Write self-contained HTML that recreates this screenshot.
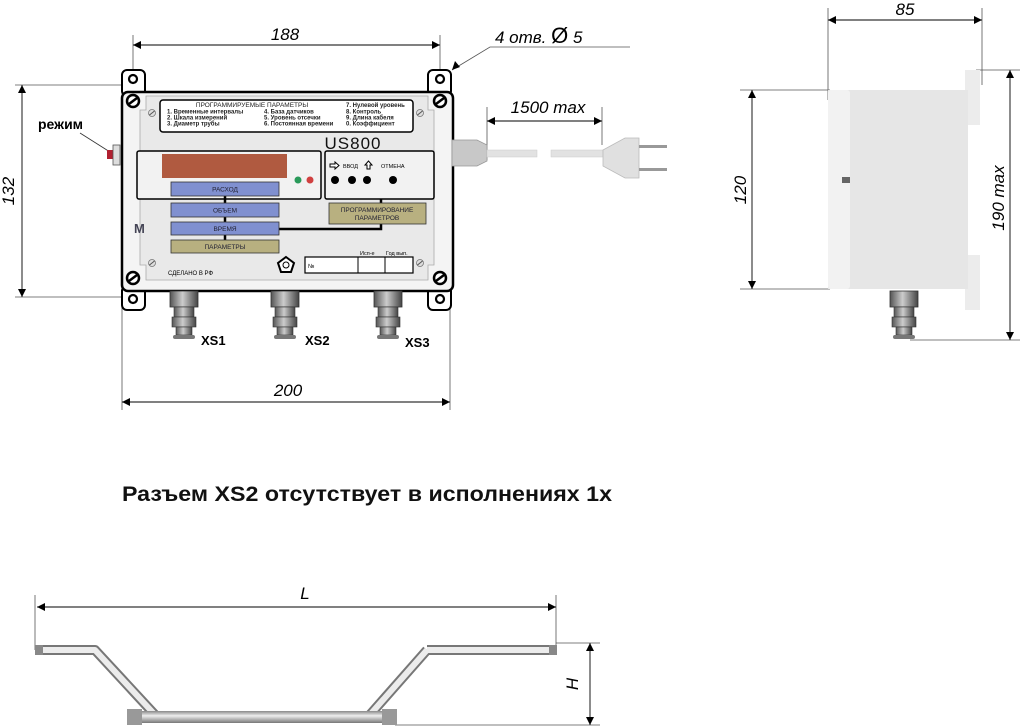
<!DOCTYPE html>
<html><head><meta charset="utf-8"><style>
html,body{margin:0;padding:0;background:#fff;}
svg{display:block;font-family:"Liberation Sans","DejaVu Sans",sans-serif;}
</style></head><body>
<svg width="1021" height="728" viewBox="0 0 1021 728" xmlns="http://www.w3.org/2000/svg">
<defs>
<marker id="a" viewBox="0 0 10 10" refX="10" refY="5" markerWidth="10" markerHeight="8" orient="auto-start-reverse" markerUnits="userSpaceOnUse"><path d="M0,0 L10,5 L0,10 Z" fill="#000"/></marker>
<linearGradient id="pipe" x1="0" y1="0" x2="0" y2="1"><stop offset="0" stop-color="#888"/><stop offset="0.4" stop-color="#eee"/><stop offset="1" stop-color="#777"/></linearGradient>
<linearGradient id="conn" x1="0" y1="0" x2="1" y2="0"><stop offset="0" stop-color="#555"/><stop offset="0.45" stop-color="#ccc"/><stop offset="1" stop-color="#444"/></linearGradient>
<g id="connector">
<rect x="-14" y="0" width="28" height="16" fill="url(#conn)" stroke="#333" stroke-width="0.8"/>
<rect x="-10" y="16" width="20" height="10" fill="url(#conn)" stroke="#333" stroke-width="0.6"/>
<rect x="-12" y="26" width="24" height="10" fill="url(#conn)" stroke="#333" stroke-width="0.6"/>
<rect x="-8" y="36" width="16" height="8" fill="url(#conn)" stroke="#333" stroke-width="0.6"/>
<rect x="-11" y="44" width="22" height="4" rx="2" fill="#777"/>
</g>
<g id="screw"><circle r="6" fill="#fff" stroke="#000" stroke-width="2.5"/><line x1="-4" y1="3" x2="4" y2="-3" stroke="#000" stroke-width="2.5"/></g>
<g id="ss"><circle r="3.5" fill="#ddd" stroke="#777" stroke-width="0.8"/><line x1="-2.5" y1="2" x2="2.5" y2="-2" stroke="#555" stroke-width="1"/></g>
</defs>

<g stroke="#555" stroke-width="0.8" fill="none">
<line x1="133" y1="35" x2="133" y2="75"/><line x1="440" y1="35" x2="440" y2="75"/>
<line x1="15" y1="85" x2="125" y2="85"/><line x1="15" y1="297" x2="125" y2="297"/>
<line x1="122" y1="300" x2="122" y2="410"/><line x1="450" y1="300" x2="450" y2="410"/>
<line x1="487" y1="107" x2="487" y2="160"/><line x1="602" y1="107" x2="602" y2="145"/>
<line x1="828" y1="8" x2="828" y2="100"/><line x1="982" y1="8" x2="982" y2="85"/>
<line x1="740" y1="90" x2="830" y2="90"/><line x1="740" y1="289" x2="830" y2="289"/>
<line x1="976" y1="70" x2="1020" y2="70"/><line x1="910" y1="340" x2="1020" y2="340"/>
<line x1="35" y1="595" x2="35" y2="650"/><line x1="556" y1="595" x2="556" y2="650"/>
<line x1="556" y1="643" x2="600" y2="643"/><line x1="395" y1="725" x2="600" y2="725"/>
<polyline points="630,47 490,47 452,70"/>
</g>
<g stroke="#000" stroke-width="0.9">
<line x1="133" y1="45" x2="440" y2="45" marker-start="url(#a)" marker-end="url(#a)"/>
<line x1="22" y1="85" x2="22" y2="297" marker-start="url(#a)" marker-end="url(#a)"/>
<line x1="122" y1="402" x2="450" y2="402" marker-start="url(#a)" marker-end="url(#a)"/>
<line x1="487" y1="121" x2="602" y2="121" marker-start="url(#a)" marker-end="url(#a)"/>
<line x1="828" y1="20" x2="982" y2="20" marker-start="url(#a)" marker-end="url(#a)"/>
<line x1="752" y1="90" x2="752" y2="289" marker-start="url(#a)" marker-end="url(#a)"/>
<line x1="1010" y1="70" x2="1010" y2="340" marker-start="url(#a)" marker-end="url(#a)"/>
<line x1="37" y1="607" x2="556" y2="607" marker-start="url(#a)" marker-end="url(#a)"/>
<line x1="590" y1="643" x2="590" y2="725" marker-start="url(#a)" marker-end="url(#a)"/>
</g>
<path d="M452,70 l3,-9 l5,6 z" fill="#000"/>
<g font-style="italic" font-size="17" fill="#000">
<text x="285" y="40" text-anchor="middle">188</text>
<text x="288" y="396" text-anchor="middle">200</text>
<text x="548" y="113" text-anchor="middle">1500 max</text>
<text x="905" y="15" text-anchor="middle">85</text>
<text x="495" y="43">4 отв. <tspan font-style="normal" font-size="22">Ø</tspan> 5</text>
<text transform="translate(14,191) rotate(-90)" text-anchor="middle">132</text>
<text transform="translate(746,190) rotate(-90)" text-anchor="middle">120</text>
<text transform="translate(1004,198) rotate(-90)" text-anchor="middle">190 max</text>
<text x="305" y="599" text-anchor="middle">L</text>
<text transform="translate(578,684) rotate(-90)" text-anchor="middle">H</text>
</g>

<text x="38" y="129" font-size="14" font-weight="bold">режим</text>
<line x1="80" y1="133" x2="110" y2="152" stroke="#333" stroke-width="0.8"/>
<rect x="107" y="150" width="6" height="9" fill="#b02030"/>
<rect x="113" y="145" width="7" height="20" fill="#ddd" stroke="#555" stroke-width="0.8"/>

<rect x="122" y="70" width="23" height="26" rx="5" fill="#fff" stroke="#000" stroke-width="2"/>
<rect x="428" y="70" width="23" height="26" rx="5" fill="#fff" stroke="#000" stroke-width="2"/>
<rect x="122" y="286" width="23" height="24" rx="5" fill="#fff" stroke="#000" stroke-width="2"/>
<rect x="428" y="286" width="23" height="24" rx="5" fill="#fff" stroke="#000" stroke-width="2"/>
<g fill="#fff" stroke="#000" stroke-width="2.2"><circle cx="133" cy="79" r="4"/><circle cx="440" cy="79" r="4"/><circle cx="133" cy="299" r="4"/><circle cx="440" cy="299" r="4"/></g>
<rect x="122" y="92" width="331" height="199" rx="6" fill="#f4f4f4" stroke="#000" stroke-width="2.5"/>
<path d="M146,96 H428 V110 H434 V265 H428 V280 H146 V265 H140 V110 H146 Z" fill="#e9e9e9" stroke="#aaa" stroke-width="0.8"/>
<use href="#screw" x="133" y="101"/><use href="#screw" x="440" y="101"/><use href="#screw" x="133" y="278"/><use href="#screw" x="440" y="278"/>
<use href="#ss" x="152" y="113"/><use href="#ss" x="420" y="113"/><use href="#ss" x="152" y="263"/><use href="#ss" x="420" y="263"/>

<rect x="160" y="100" width="253" height="32" rx="3" fill="#fff" stroke="#000" stroke-width="1.5"/>
<g font-size="6" font-weight="bold" fill="#222">
<text x="252" y="107" font-weight="normal" font-size="6.5" text-anchor="middle">ПРОГРАММИРУЕМЫЕ ПАРАМЕТРЫ</text>
<text x="167" y="113.5">1. Временные интервалы</text><text x="167" y="119.5">2. Шкала измерений</text><text x="167" y="125.5">3. Диаметр трубы</text>
<text x="264" y="113.5">4. База датчиков</text><text x="264" y="119.5">5. Уровень отсечки</text><text x="264" y="125.5">6. Постоянная времени</text>
<text x="346" y="107">7. Нулевой уровень</text><text x="346" y="113.5">8. Контроль</text><text x="346" y="119.5">9. Длина кабеля</text><text x="346" y="125.5">0. Коэффициент</text>
</g>
<text x="353" y="149" font-size="17" text-anchor="middle" fill="#111" letter-spacing="1">US800</text>

<rect x="137" y="151" width="184" height="48" rx="2" fill="#f2f2f2" stroke="#000" stroke-width="1.5"/>
<rect x="162" y="154" width="125" height="24" fill="#b05a40"/>
<circle cx="298" cy="180" r="3.5" fill="#2a9a5a"/><circle cx="310" cy="180" r="3.5" fill="#d04040"/>
<rect x="325" y="151" width="109" height="48" rx="2" fill="#f2f2f2" stroke="#000" stroke-width="1.5"/>
<path d="M330,164 h5 v-2 l4,3.5 l-4,3.5 v-2 h-5 z" fill="#fff" stroke="#000" stroke-width="1"/>
<text x="343" y="168" font-size="5.5">ВВОД</text>
<path d="M367,169 v-4 h-2 l3.5,-4 l3.5,4 h-2 v4 z" fill="#fff" stroke="#000" stroke-width="1"/>
<text x="381" y="168" font-size="5.5">ОТМЕНА</text>
<g fill="#000"><circle cx="335" cy="180" r="4"/><circle cx="352" cy="180" r="4"/><circle cx="367" cy="180" r="4"/><circle cx="393" cy="180" r="4"/></g>

<g stroke="#000" stroke-width="2.5" fill="none"><line x1="225" y1="196" x2="225" y2="240"/><polyline points="279,229 381,229 381,199"/></g>
<g font-size="6.5" fill="#223" text-anchor="middle">
<rect x="171" y="182" width="108" height="14" fill="#8090d0" stroke="#333" stroke-width="0.8"/><text x="225" y="191.5">РАСХОД</text>
<rect x="171" y="203" width="108" height="14" fill="#8090d0" stroke="#333" stroke-width="0.8"/><text x="225" y="212.5">ОБЪЕМ</text>
<rect x="171" y="222" width="108" height="13" fill="#8090d0" stroke="#333" stroke-width="0.8"/><text x="225" y="231">ВРЕМЯ</text>
<rect x="171" y="240" width="108" height="13" fill="#b8b080" stroke="#333" stroke-width="0.8"/><text x="225" y="249">ПАРАМЕТРЫ</text>
<rect x="329" y="203" width="97" height="21" fill="#b8b080" stroke="#333" stroke-width="0.8"/><text x="377" y="212">ПРОГРАММИРОВАНИЕ</text><text x="377" y="220">ПАРАМЕТРОВ</text>
</g>
<text x="134" y="233" font-size="13" font-weight="bold" fill="#445">M</text>
<text x="168" y="275" font-size="6">СДЕЛАНО В РФ</text>
<path d="M286,257 l8,6 l-3,9 h-10 l-3,-9 z" fill="#fff" stroke="#000" stroke-width="2"/>
<circle cx="286" cy="265" r="3" fill="none" stroke="#000" stroke-width="1"/>
<rect x="305" y="257" width="108" height="16" fill="#fff" stroke="#000" stroke-width="1.2"/>
<line x1="358" y1="257" x2="358" y2="273" stroke="#000"/><line x1="385" y1="257" x2="385" y2="273" stroke="#000"/>
<text x="308" y="268" font-size="6">№</text>
<text x="360" y="255" font-size="5.5">Исп-е</text><text x="386" y="255" font-size="5.5">Год вып.</text>

<use href="#connector" x="184" y="291"/><use href="#connector" x="285" y="291"/><use href="#connector" x="388" y="291"/>
<g font-size="13" font-weight="bold"><text x="201" y="345">XS1</text><text x="305" y="345">XS2</text><text x="405" y="347">XS3</text></g>

<path d="M452,140 h25 l10,5 v16 l-10,5 h-25 z" fill="#c8c8c8" stroke="#999" stroke-width="0.8"/>
<rect x="487" y="150" width="50" height="7" fill="#e2e2e2" stroke="#ccc" stroke-width="0.5"/>
<rect x="551" y="150" width="52" height="7" fill="#e2e2e2" stroke="#ccc" stroke-width="0.5"/>
<path d="M603,150 l22,-12 h14 v40 h-14 l-22,-12 z" fill="#e0e0e0" stroke="#bbb" stroke-width="0.8"/>
<rect x="639" y="145" width="28" height="3" fill="#999"/><rect x="639" y="168" width="28" height="3" fill="#999"/>

<rect x="965" y="70" width="15" height="55" fill="#ececec"/>
<rect x="965" y="255" width="15" height="55" fill="#ececec"/>
<rect x="828" y="90" width="140" height="199" fill="#e6e6e6"/>
<rect x="828" y="90" width="22" height="199" rx="3" fill="#f2f2f2"/>
<rect x="842" y="177" width="8" height="6" fill="#666"/>
<use href="#connector" x="904" y="291"/>

<text x="122" y="501" font-size="21" font-weight="bold" fill="#111" textLength="490" lengthAdjust="spacingAndGlyphs">Разъем XS2 отсутствует в исполнениях 1х</text>

<g fill="none" stroke-linejoin="round" stroke-linecap="butt">
<path d="M37,650 H95 L157,717 M427,650 H556 M368,717 L427,650" stroke="#777" stroke-width="10"/>
<path d="M37,650 H95 L157,717 M427,650 H556 M368,717 L427,650" stroke="#ececec" stroke-width="6"/>
</g>
<rect x="127" y="711" width="270" height="12" fill="url(#pipe)"/>
<rect x="127" y="709" width="15" height="16" fill="#999"/><rect x="382" y="709" width="15" height="16" fill="#999"/>
<rect x="35" y="645" width="8" height="10" fill="#888"/><rect x="549" y="645" width="8" height="10" fill="#888"/>
</svg>
</body></html>
